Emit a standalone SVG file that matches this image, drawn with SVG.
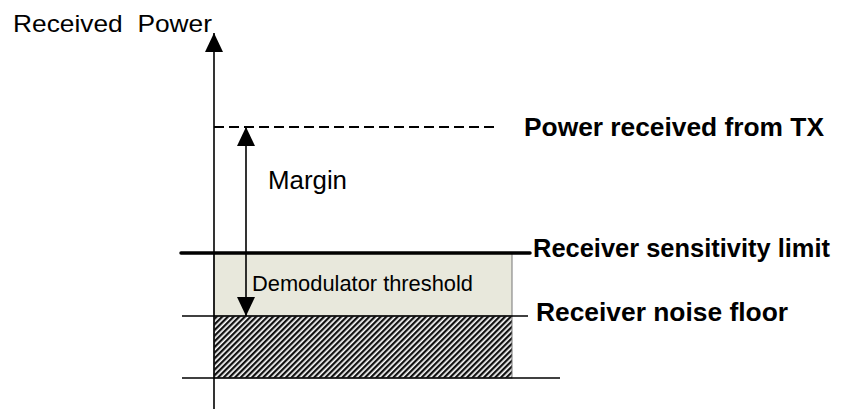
<svg xmlns="http://www.w3.org/2000/svg" width="843" height="410" viewBox="0 0 843 410">
<style>
.t{font-family:"Liberation Sans",Arial,sans-serif;fill:#000}
.b{font-weight:bold}
.ln{stroke:#000;fill:none}
</style>
<defs>
<pattern id="hatch" width="4" height="4" patternUnits="userSpaceOnUse" patternTransform="rotate(45)">
<rect width="4" height="4" fill="#fff"/>
<rect width="2.3" height="4" fill="#111"/>
</pattern>
<marker id="ah" viewBox="0 0 19 18" markerWidth="19" markerHeight="18" refX="19" refY="9" orient="auto" markerUnits="userSpaceOnUse">
<path d="M0,0 L19,9 L0,18 Z" fill="#000"/>
</marker>
</defs>
<rect width="843" height="410" fill="#fff"/>
<g id="regions">
<rect id="demod-region" x="214" y="253" width="298" height="63" fill="#e8e8dc" stroke="#777" stroke-width="1"/>
<rect id="noise-region" x="214" y="316" width="298" height="62" fill="url(#hatch)" stroke="#777" stroke-width="1"/>
</g>
<g id="connectors">
<line class="ln" x1="214" y1="409" x2="214" y2="33" stroke-width="1.6" marker-end="url(#ah)"/>
<line class="ln" x1="214" y1="127" x2="495" y2="127" stroke-width="2.2" stroke-dasharray="10,5"/>
<line class="ln" x1="181" y1="253" x2="530" y2="253" stroke-width="3.5" stroke-linecap="round"/>
<line class="ln" x1="182" y1="316" x2="528" y2="316" stroke-width="1.3"/>
<line class="ln" x1="182" y1="378" x2="560" y2="378" stroke-width="1.3"/>
<line class="ln" x1="246" y1="220" x2="246" y2="127" stroke-width="1.6" marker-end="url(#ah)"/>
<line class="ln" x1="246" y1="220" x2="246" y2="316" stroke-width="1.6" marker-end="url(#ah)"/>
</g>
<g id="label-axis"><text class="t" x="13" y="32" font-size="24.5" textLength="199" lengthAdjust="spacingAndGlyphs" xml:space="preserve">Received  Power</text></g>
<g id="label-tx"><text class="t b" x="524" y="136" font-size="25" textLength="300" lengthAdjust="spacingAndGlyphs">Power received from TX</text></g>
<g id="label-margin"><text class="t" x="268" y="189" font-size="25" textLength="79" lengthAdjust="spacingAndGlyphs">Margin</text></g>
<g id="label-sens"><text class="t b" x="533" y="257" font-size="25" textLength="297" lengthAdjust="spacingAndGlyphs">Receiver sensitivity limit</text></g>
<g id="label-noise"><text class="t b" x="536" y="321" font-size="25" textLength="252" lengthAdjust="spacingAndGlyphs">Receiver noise floor</text></g>
<g id="label-demod"><text class="t" x="252" y="291" font-size="22" textLength="221" lengthAdjust="spacingAndGlyphs">Demodulator threshold</text></g>
</svg>
